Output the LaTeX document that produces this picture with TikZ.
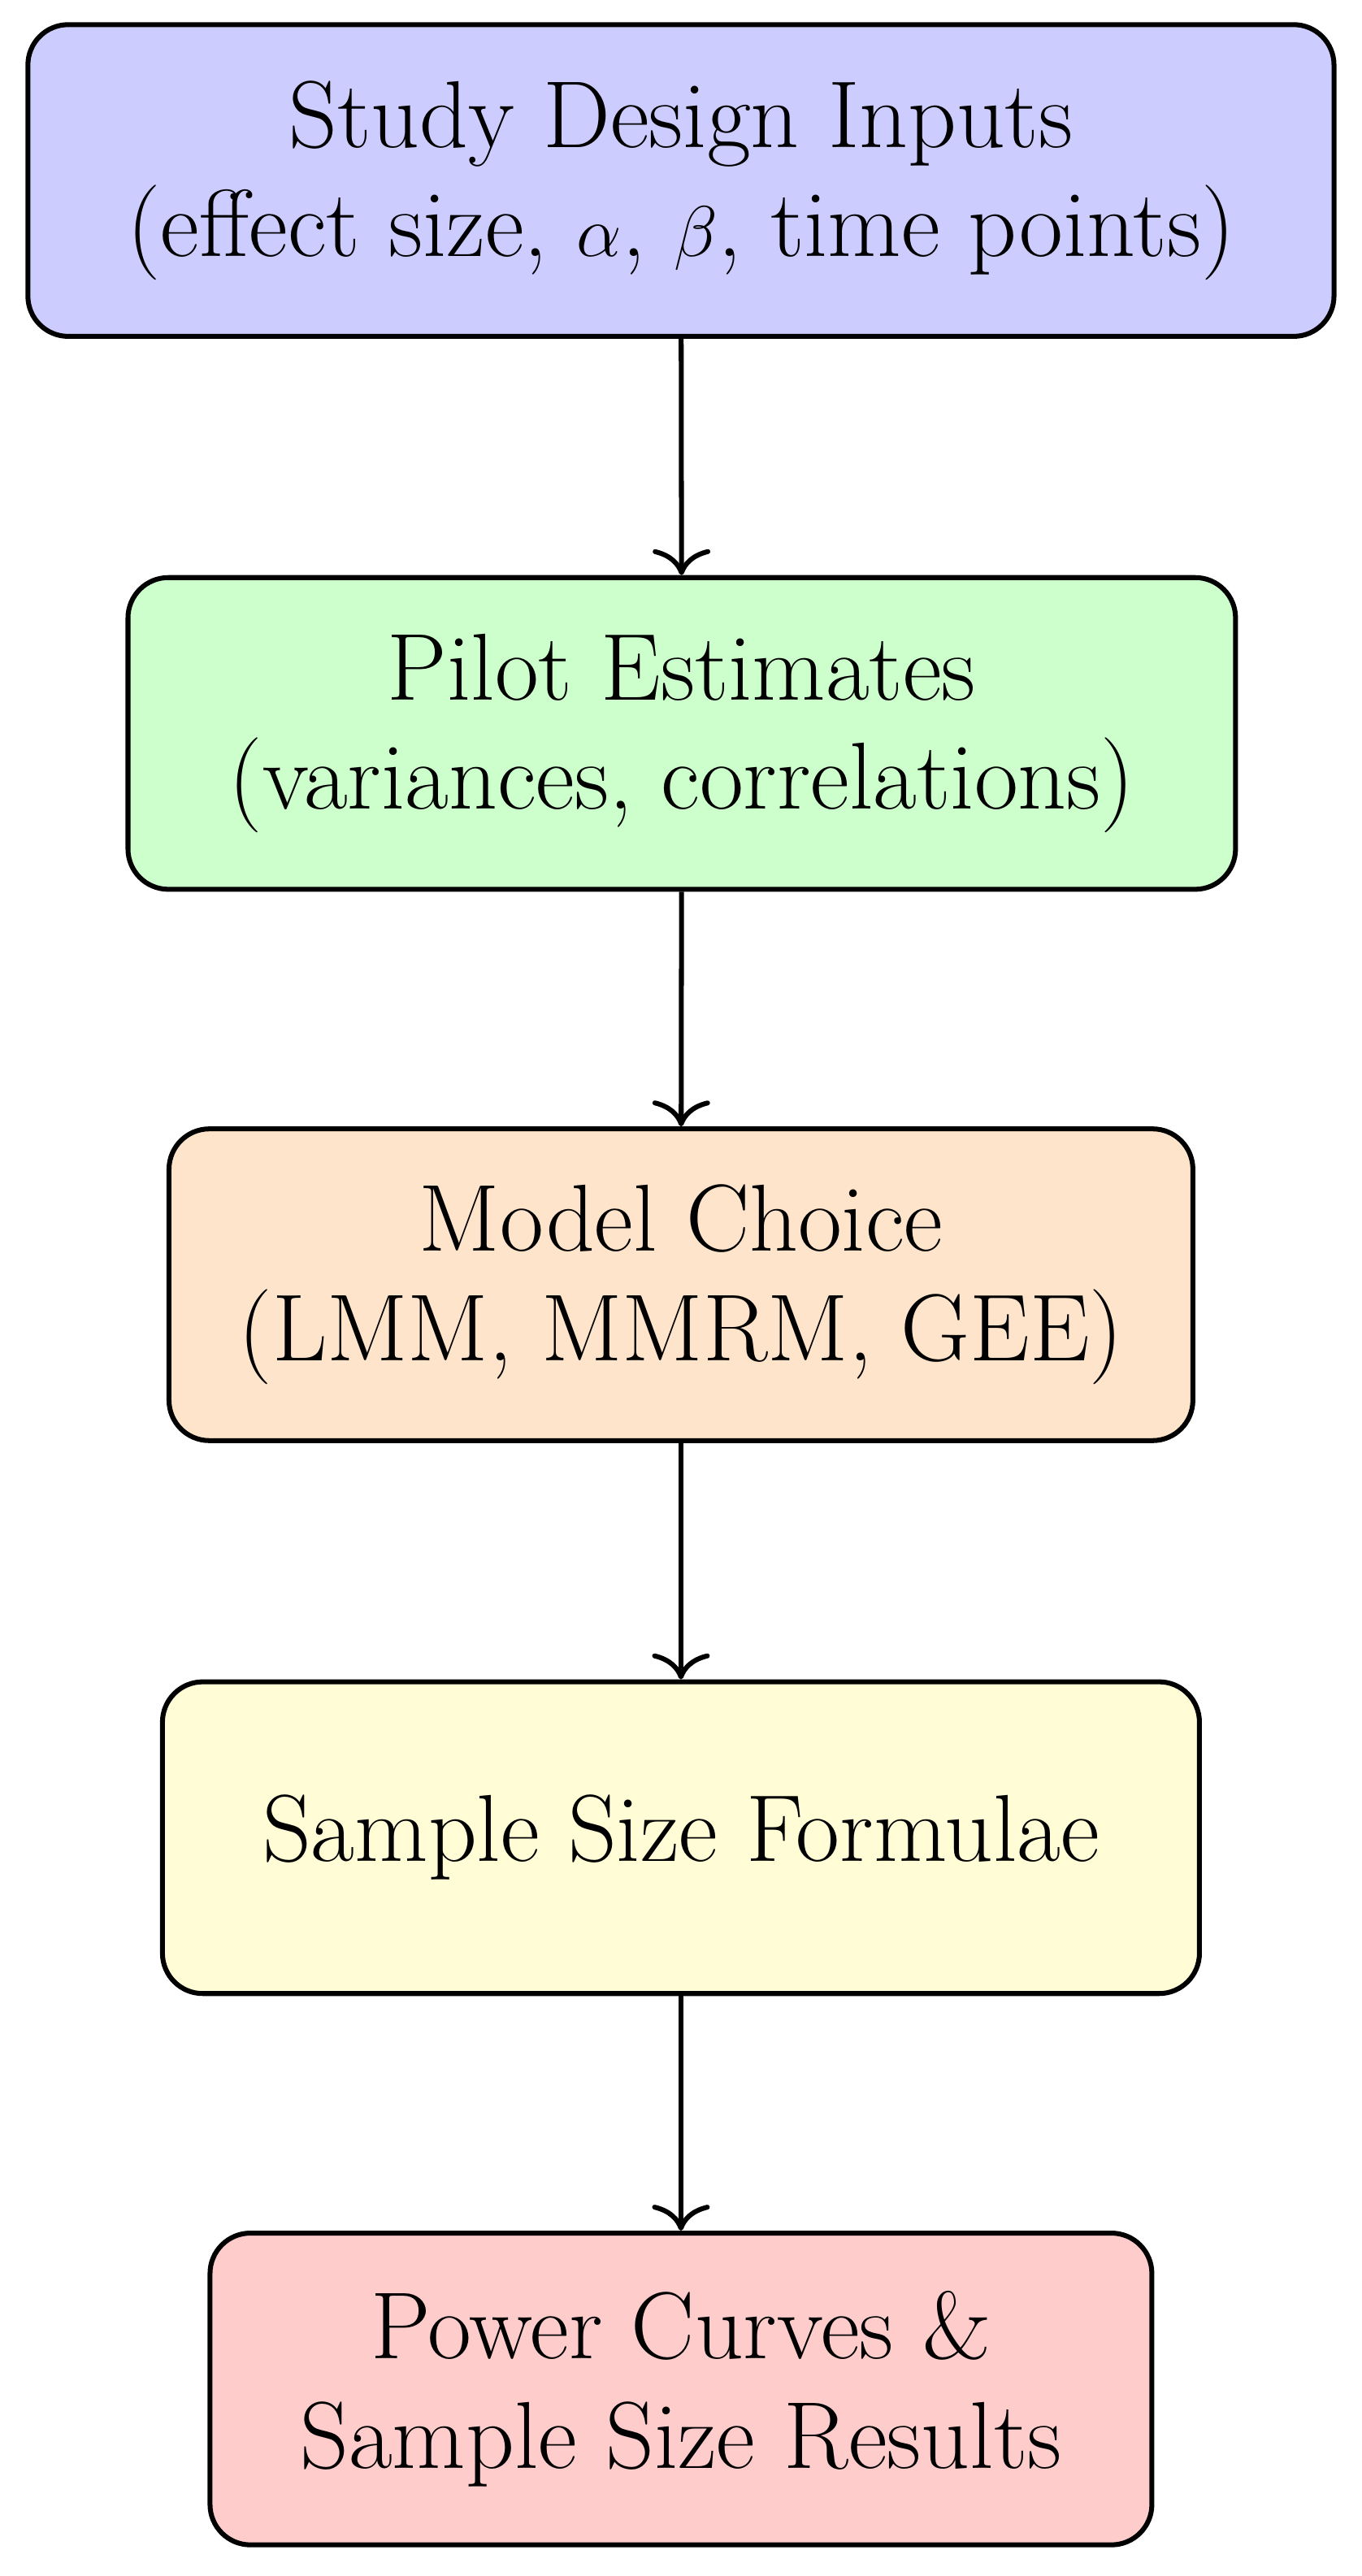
\documentclass[tikz,border=0pt]{standalone}
\usetikzlibrary{arrows.meta}
\definecolor{cA}{RGB}{204,204,255}
\definecolor{cB}{RGB}{204,255,204}
\definecolor{cC}{RGB}{255,228,204}
\definecolor{cD}{RGB}{255,252,214}
\definecolor{cE}{RGB}{255,204,204}
\begin{document}
\begin{tikzpicture}[x=0.02cm,y=-0.02cm,
  box/.style={draw, line width=1.7pt, rounded corners=14pt, align=center, inner sep=0pt, font=\fontsize{33}{38}\selectfont},
  arr/.style={line width=1.7pt, -{To[length=9pt,width=20pt,line width=1.7pt]}}]
\useasboundingbox (0,0) rectangle (830,1570);
\node[box, fill=cA, minimum width=796*0.02cm, minimum height=190*0.02cm] (a) at (415,110) {Study Design Inputs\\(effect size, $\alpha$, $\beta$, time points)};
\node[box, fill=cB, minimum width=675*0.02cm, minimum height=190*0.02cm] (b) at (415.5,447) {Pilot Estimates\\(variances, correlations)};
\node[box, fill=cC, minimum width=624*0.02cm, minimum height=190*0.02cm] (c) at (415,783) {Model Choice\\(LMM, MMRM, GEE)};
\node[box, fill=cD, minimum width=632*0.02cm, minimum height=190*0.02cm] (d) at (415,1120) {Sample Size Formulae};
\node[box, fill=cE, minimum width=574*0.02cm, minimum height=190*0.02cm] (e) at (415,1456) {Power Curves \&\\Sample Size Results};
\draw[arr] (a) -- (b);
\draw[arr] (b) -- (c);
\draw[arr] (c) -- (d);
\draw[arr] (d) -- (e);
\end{tikzpicture}
\end{document}
